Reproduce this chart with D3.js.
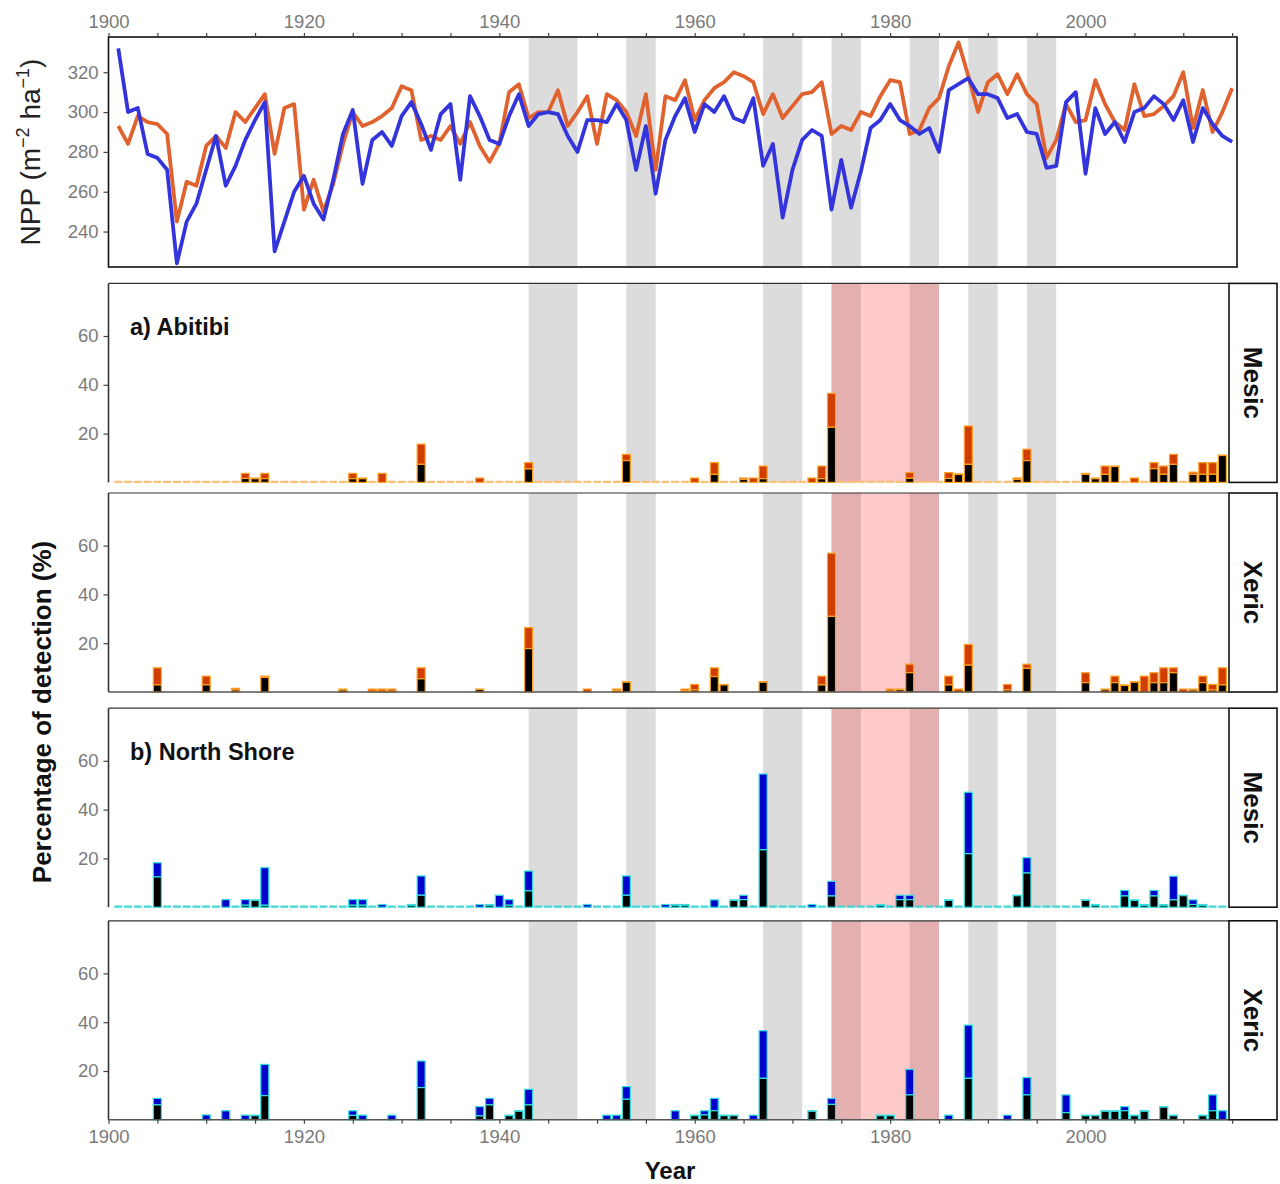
<!DOCTYPE html>
<html>
<head>
<meta charset="utf-8">
<script src="https://cdn.jsdelivr.net/npm/d3@7"></script>
<style>
  body { margin: 0; background: #fff; }
  svg { display: block; font-family: "Liberation Sans", Arial, sans-serif; }
</style>
</head>
<body>
<svg id="chart" width="1280" height="1184"></svg>
<script>
// ---------------- data ----------------
const nppYears = d3.range(1901, 2016);
const nppOrange = [293,284,298,295,294,289,245,265,263,283,288,282,300,295,302,309,279,302,304,251,
  266,250,264,284,300,293,295,298,302,313,311,286,288,286,293,284,295,283,275,284,
  310,314,297,300,300,311,293,300,308,284,309,306,300,288,309,271,308,306,316,296,
  306,312,315,320,318,315,299,309,297,303,309,310,315,289,293,291,300,298,308,316,
  315,289,291,302,307,323,335,318,300,315,319,309,319,309,304,277,286,304,295,296,
  316,304,295,291,314,298,299,303,308,320,292,311,290,300,312];
const nppBlue = [332,300,302,279,277,271,224,245,254,271,288,263,273,286,296,305,230,245,260,268,
  254,246,266,289,301,264,286,290,283,298,305,294,281,299,304,266,308,298,286,284,
  298,309,293,299,300,299,288,280,296,296,295,304,296,271,293,259,286,298,307,290,
  304,300,308,297,295,307,273,284,247,271,286,291,288,251,276,252,270,292,296,304,
  296,293,289,292,280,311,314,317,309,309,307,297,299,290,289,272,273,305,310,269,
  302,289,295,285,300,302,308,304,296,306,285,302,294,288,285];
const nppTicks = [240, 260, 280, 300, 320];

// dry / drought periods shaded in every panel
const greyStart = [1943, 1953, 1967, 1974, 1982, 1988, 1994];
const greyEnd   = [1948, 1956, 1971, 1977, 1985, 1991, 1997];
// outbreak period shaded in the detection panels
const pinkStart = [1974];
const pinkEnd   = [1985];

// detection percentages: total bar height and the black (lower) part
const abitibiMesicYears = [1914,1915,1916,1925,1926,1928,1932,1938,1943,1953,1960,1962,1965,1966,1967,1972,1973,1974,
  1982,1986,1987,1988,1993,1994,2000,2001,2002,2003,2005,2007,2008,2009,2011,2012,2013,2014];
const abitibiMesicTotal = [3.7,1.8,3.7,3.7,1.8,3.7,15.7,1.8,8.1,11.5,1.8,8.1,1.8,1.8,6.7,1.8,6.7,36.5,
  4.0,4.0,3.5,23.1,1.8,13.6,3.7,1.8,6.7,6.7,1.8,8.1,6.7,11.5,4.2,8.1,8.1,11.2];
const abitibiMesicBlack = [1.6,1.5,1.5,1.5,1.5,0,7.4,0,5.5,8.9,0,3.3,1.2,0,1.5,0,1.5,22.6,
  1.7,1.6,3.3,7.4,1.2,8.9,3.3,1.5,3.3,6.5,0,5.6,3.3,7.4,3.3,3.3,3.3,11.0];

const abitibiXericYears = [1905,1910,1913,1916,1924,1927,1928,1929,1932,1938,1943,1949,1952,1953,1959,1960,1962,1963,
  1967,1973,1974,1980,1981,1982,1986,1987,1988,1992,1994,2000,2002,2003,2004,2005,2006,2007,2008,2009,2010,2011,2012,2013,2014];
const abitibiXericTotal = [9.9,6.5,1.5,6.5,1.2,1.2,1.2,1.2,9.9,1.2,26.4,1.2,1.2,4.2,1.2,3.1,9.9,3.1,
  4.2,6.5,56.9,1.2,1.2,11.4,6.5,1.2,19.5,3.1,11.4,7.9,1.2,6.5,2.9,4.2,6.5,7.9,9.9,9.9,1.2,1.2,6.5,3.1,9.9];
const abitibiXericBlack = [2.9,2.9,0.8,6.0,0.8,0.3,0.3,0.3,5.4,1.0,17.8,0,0.6,4.0,0.4,0.8,6.3,2.9,
  4.0,2.9,31.0,0.3,0.9,7.9,2.9,0,11.0,0.8,9.7,3.8,0.9,3.8,2.7,4.0,0,3.8,3.8,7.9,0,0.8,3.8,0.8,2.9];

const shoreMesicYears = [1905,1912,1914,1915,1916,1925,1926,1928,1931,1932,1938,1939,1940,1941,1943,1949,1953,1957,1958,1959,
  1962,1964,1965,1967,1972,1974,1979,1981,1982,1986,1988,1993,1994,2000,2001,2004,2005,2006,2007,2008,2009,2010,2011,2012];
const shoreMesicTotal = [18.2,3.1,3.1,3.0,16.2,3.1,3.1,1.1,1.1,12.8,1.1,1.1,4.9,3.1,14.8,1.1,12.8,1.1,1.1,1.1,
  3.0,3.0,4.9,54.6,1.1,10.6,1.1,4.9,4.9,3.0,47.1,4.9,20.3,3.0,1.1,6.9,3.0,1.1,6.9,1.1,12.7,4.9,3.0,1.1];
const shoreMesicBlack = [12.4,0,0.8,2.8,0.8,0.8,0.8,0,0.8,4.9,0,0.8,0,0.8,6.7,0,4.9,0,0.8,0.8,
  0,2.8,3.1,23.5,0,4.6,0.8,3.1,3.1,2.8,21.9,4.7,14.0,2.8,0.8,4.6,2.8,0.8,4.6,0.8,3.0,4.7,1.1,0.8];

const shoreXericYears = [1905,1910,1912,1914,1915,1916,1925,1926,1929,1932,1938,1939,1941,1942,1943,1951,1952,1953,1958,
  1960,1961,1962,1963,1964,1966,1967,1972,1974,1979,1980,1982,1986,1988,1992,1994,1998,2000,2001,2002,2003,2004,
  2005,2006,2008,2009,2012,2013,2014];
const shoreXericTotal = [8.8,2.0,3.7,1.9,1.9,22.7,3.7,1.9,1.9,24.1,5.4,8.8,1.9,3.7,12.5,1.9,1.9,13.6,3.7,
  1.9,3.7,8.8,1.9,1.9,1.9,36.5,3.7,8.8,1.9,1.9,20.7,1.9,38.8,1.9,17.3,10.2,1.9,1.9,3.7,3.7,5.4,
  1.9,3.7,5.4,1.9,1.9,10.2,3.7];
const shoreXericBlack = [6.1,0,0,0,1.7,9.9,1.8,0,0,13.2,1.6,6.1,1.7,3.5,6.1,0,0,8.4,0,
  1.7,2.0,3.7,1.7,1.7,0,17.0,3.5,6.3,1.7,1.7,10.2,0,17.0,0,10.2,2.9,1.7,1.7,3.5,3.5,3.7,
  1.7,3.5,5.2,1.7,1.7,3.7,0];

// every year of the detection series (zero bars show as a dashed baseline)
const detectionYears = d3.range(1901, 2015);
const detectionTicks = [20, 40, 60];
const yearTicks = d3.range(1900, 2016, 5);

// ---------------- layout ----------------
const svg = d3.select("#chart");
const x = d3.scaleLinear().domain([1900, 2015.5]).range([108.5, 1237]);
const barLeft = 108.5, barRight = 1229;
const barW = 0.82 * (x(1901) - x(1900));

const tickGrey = "#7a7a7a";
const fmtYear = d => (d % 20 === 0 ? d : "");

function styleAxis(g, fontSize) {
  g.select(".domain").remove();
  g.selectAll(".tick line").attr("stroke", "#444").attr("stroke-width", 1.2);
  g.selectAll(".tick text").attr("fill", tickGrey).attr("font-size", fontSize)
    .attr("font-family", "Liberation Sans, Arial, sans-serif");
}

// ---------------- top panel: NPP ----------------
const T = { l: 108.5, r: 1237, t: 37, b: 267 };
const yN = d3.scaleLinear().domain([222.2, 337.7]).range([T.b, T.t]);

svg.append("clipPath").attr("id", "clipTop").append("rect")
  .attr("x", T.l).attr("y", T.t).attr("width", T.r - T.l).attr("height", T.b - T.t);

const topG = svg.append("g");
topG.selectAll("rect.band").data(greyStart).join("rect")
  .attr("x", (d) => x(d)).attr("width", (d, i) => x(greyEnd[i]) - x(d))
  .attr("y", T.t).attr("height", T.b - T.t).attr("fill", "#dcdcdc");

const nppLine = (vals) => d3.line().x((d, i) => x(nppYears[i])).y(d => yN(d))(vals);
const linesG = topG.append("g").attr("clip-path", "url(#clipTop)");
linesG.append("path").attr("d", nppLine(nppOrange)).attr("fill", "none")
  .attr("stroke", "#e0622f").attr("stroke-width", 3.8).attr("stroke-linejoin", "round");
linesG.append("path").attr("d", nppLine(nppBlue)).attr("fill", "none")
  .attr("stroke", "#3434dc").attr("stroke-width", 3.8).attr("stroke-linejoin", "round");

topG.append("rect").attr("x", T.l).attr("y", T.t).attr("width", T.r - T.l).attr("height", T.b - T.t)
  .attr("fill", "none").attr("stroke", "#111").attr("stroke-width", 1.6);

topG.append("g").attr("transform", `translate(${T.l},0)`)
  .call(d3.axisLeft(yN).tickValues(nppTicks).tickSize(5).tickPadding(5))
  .call(g => styleAxis(g, 18.5));
topG.append("g").attr("transform", `translate(0,${T.t})`)
  .call(d3.axisTop(x).tickValues(yearTicks).tickFormat(fmtYear).tickSize(4).tickPadding(5))
  .call(g => styleAxis(g, 18.5));

const nppLabel = svg.append("text")
  .attr("transform", "translate(40,152) rotate(-90)")
  .attr("text-anchor", "middle").attr("font-size", 28).attr("fill", "#222");
nppLabel.append("tspan").text("NPP (m");
nppLabel.append("tspan").text("\u22122").attr("font-size", 18).attr("dy", -11);
nppLabel.append("tspan").text(" ha").attr("dy", 11);
nppLabel.append("tspan").text("\u22121").attr("font-size", 18).attr("dy", -11);
nppLabel.append("tspan").text(")").attr("dy", 11);

// ---------------- detection panels ----------------
const panels = [
  { years: abitibiMesicYears, total: abitibiMesicTotal, black: abitibiMesicBlack, bottom: 482.4,
    fill: "#cf3d00", edge: "#ffa024", dash: "#ffc078", zeroDash: true, strip: "Mesic", label: "a) Abitibi" },
  { years: abitibiXericYears, total: abitibiXericTotal, black: abitibiXericBlack, bottom: 692,
    fill: "#cf3d00", edge: "#ffa024", dash: null, zeroDash: false, strip: "Xeric", label: null },
  { years: shoreMesicYears, total: shoreMesicTotal, black: shoreMesicBlack, bottom: 907.2,
    fill: "#0000cc", edge: "#38dede", dash: "#45d6d6", zeroDash: true, strip: "Mesic", label: "b) North Shore" },
  { years: shoreXericYears, total: shoreXericTotal, black: shoreXericBlack, bottom: 1119.8,
    fill: "#0000cc", edge: "#38dede", dash: null, zeroDash: false, strip: "Xeric", label: null },
];
const panelH = 199;
const yMax = panelH / 2.44;

panels.forEach((p, k) => {
  const top = p.bottom - panelH;
  const y = d3.scaleLinear().domain([0, yMax]).range([p.bottom, top]);
  const g = svg.append("g");
  const clipId = "clipP" + k;
  svg.append("clipPath").attr("id", clipId).append("rect")
    .attr("x", barLeft).attr("y", top).attr("width", barRight - barLeft).attr("height", panelH + 2);

  const inner = g.append("g").attr("clip-path", `url(#${clipId})`);
  inner.selectAll("rect.grey").data(greyStart).join("rect")
    .attr("x", d => x(d)).attr("width", (d, i) => x(greyEnd[i]) - x(d))
    .attr("y", top).attr("height", panelH).attr("fill", "#dcdcdc");
  inner.selectAll("rect.pink").data(pinkStart).join("rect")
    .attr("x", d => x(d)).attr("width", (d, i) => x(pinkEnd[i]) - x(d))
    .attr("y", top).attr("height", panelH).attr("fill", "rgb(246,40,40)").attr("fill-opacity", 0.25);

  if (p.zeroDash) {
    inner.selectAll("line.zero").data(detectionYears).join("line")
      .attr("x1", d => x(d) - barW / 2).attr("x2", d => x(d) + barW / 2)
      .attr("y1", y(0) - 0.5).attr("y2", y(0) - 0.5)
      .attr("stroke", p.dash).attr("stroke-width", 2.2);
  }

  const bars = inner.selectAll("g.bar").data(p.years).join("g");
  // coloured upper part
  bars.append("rect")
    .attr("x", d => x(d) - barW / 2).attr("width", barW)
    .attr("y", (d, i) => y(p.total[i]))
    .attr("height", (d, i) => y(p.black[i]) - y(p.total[i]))
    .attr("fill", p.fill).attr("stroke", p.edge).attr("stroke-width", 1.2);
  // black lower part
  bars.filter((d, i) => p.black[i] > 0).append("rect")
    .attr("x", d => x(d) - barW / 2).attr("width", barW)
    .attr("y", d => y(p.black[p.years.indexOf(d)]))
    .attr("height", d => y(0) - y(p.black[p.years.indexOf(d)]))
    .attr("fill", "#000").attr("stroke", p.edge).attr("stroke-width", 1.2);

  // axes
  g.append("line").attr("x1", barLeft).attr("x2", barLeft).attr("y1", top).attr("y2", p.bottom)
    .attr("stroke", "#333").attr("stroke-width", 1.6);
  g.append("line").attr("x1", barLeft).attr("x2", barRight).attr("y1", top).attr("y2", top)
    .attr("stroke", "#333").attr("stroke-width", 1.2);
  if (!p.zeroDash) {
    g.append("line").attr("x1", barLeft).attr("x2", barRight).attr("y1", p.bottom).attr("y2", p.bottom)
      .attr("stroke", "#555").attr("stroke-width", 1.6);
  }
  g.append("g").attr("transform", `translate(${barLeft},0)`)
    .call(d3.axisLeft(y).tickValues(detectionTicks).tickSize(5).tickPadding(5))
    .call(a => styleAxis(a, 18.5));

  // facet strip
  g.append("rect").attr("x", barRight).attr("y", top).attr("width", 1277 - barRight).attr("height", panelH)
    .attr("fill", "#fff").attr("stroke", "#111").attr("stroke-width", 1.6);
  g.append("text")
    .attr("transform", `translate(${(barRight + 1277) / 2},${top + panelH / 2}) rotate(90)`)
    .attr("text-anchor", "middle").attr("dominant-baseline", "central")
    .attr("font-size", 26).attr("font-weight", "bold").attr("fill", "#111").text(p.strip);

  if (p.label) {
    g.append("text").attr("x", 130).attr("y", top + 52)
      .attr("font-size", 23.5).attr("font-weight", "bold").attr("fill", "#111").text(p.label);
  }

  if (k === panels.length - 1) {
    g.append("g").attr("transform", `translate(0,${p.bottom})`)
      .call(d3.axisBottom(x).tickValues(yearTicks).tickFormat(fmtYear).tickSize(4).tickPadding(6))
      .call(a => styleAxis(a, 18.5));
  }
});

svg.append("text").attr("x", 670).attr("y", 1179).attr("text-anchor", "middle")
  .attr("font-size", 24).attr("font-weight", "bold").attr("fill", "#111").text("Year");
svg.append("text").attr("transform", "translate(51,712) rotate(-90)")
  .attr("text-anchor", "middle").attr("font-size", 26).attr("font-weight", "bold").attr("fill", "#111")
  .text("Percentage of detection (%)");
</script>
</body>
</html>
